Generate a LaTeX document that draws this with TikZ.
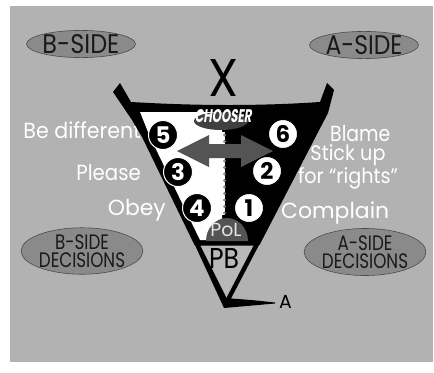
\documentclass[tikz,border=0pt]{standalone}
\usepackage{fontspec}
\setmainfont{Poppins}
\newfontfamily\chfont{Poppins}[FakeSlant=0.22]
\usetikzlibrary{shapes.geometric}
\definecolor{bg}{gray}{0.70}
\definecolor{ell}{gray}{0.54}
\definecolor{arr}{gray}{0.33}
\definecolor{pol}{gray}{0.33}
\definecolor{pbfill}{gray}{0.72}
\newcommand\sqz[2]{\scalebox{#1}[1]{#2}}
\begin{document}
\begin{tikzpicture}[x=1bp,y=-1bp,
  lbl/.style={text=white, inner sep=0pt, font=\fontsize{22}{22}\selectfont},
  oval/.style={ellipse, draw=black!70, line width=0.6bp, fill=ell, inner sep=0pt, text=black!90},
  numb/.style={circle, fill=black, draw=white, line width=1bp, text=white, minimum size=29bp, inner sep=0pt, font=\fontsize{23}{23}\selectfont\bfseries},
  numw/.style={circle, fill=white, draw=black, line width=1bp, text=black, minimum size=29bp, inner sep=0pt, font=\fontsize{23}{23}\selectfont\bfseries},
  plain/.style={inner sep=0pt}
]
\useasboundingbox (0,0) rectangle (434,372);
\fill[white] (0,0) rectangle (434,372);
\fill[bg] (10,6) rectangle (433,362);

% ovals
\node[oval, minimum width=92bp, minimum height=27bp] (bside) at (81,44) {\resizebox{77bp}{19bp}{B-SIDE}};
\node[oval, minimum width=93bp, minimum height=27bp] (aside) at (364,45) {\resizebox{77bp}{19bp}{A-SIDE}};
\node[oval, minimum width=110bp, minimum height=46bp, align=center, font=\fontsize{21}{18}\selectfont] (bdec) at (82,251) {\sqz{0.8}{B-SIDE}\\\sqz{0.8}{DECISIONS}};
\node[oval, minimum width=110bp, minimum height=47bp, align=center, font=\fontsize{21}{18}\selectfont] (adec) at (365,252) {\sqz{0.8}{A-SIDE}\\\sqz{0.8}{DECISIONS}};

% X
\node[plain] (x) at (223,78) {\resizebox{30bp}{37bp}{X}};

% side labels
\node[lbl, anchor=base east] (diff) at (141,138) {\sqz{0.94}{Be different}};
\node[lbl, anchor=base east] (please) at (141,180) {\sqz{0.9}{Please}};
\node[lbl, anchor=base east] (obey) at (166,215) {Obey};
\node[lbl, anchor=base west] (blame) at (330,141) {\sqz{0.86}{Blame}};
\node[lbl, align=center, font=\fontsize{21}{17}\selectfont] (stick) at (348,167) {\sqz{0.92}{Stick up}\\\sqz{0.92}{for “rights”}};
\node[lbl, anchor=base west] (compl) at (281,218) {Complain};

% body
\fill[black] (120,83) -- (131,102) .. controls (200,106) and (260,106) .. (320,102) -- (327,83) -- (334,90) -- (328,113) -- (259.5,245) -- (194.5,245) -- (142,137) -- (132,120) -- (113,92) -- cycle;
\fill[white] (140,112) -- (222,112) -- (222,240) -- (200,240) -- (150,137) -- cycle;

% chooser head
\fill[black!75] (221,121) ellipse [x radius=27, y radius=9];
\node[plain, text=white] (chooser) at (223,116) {\resizebox{57bp}{13bp}{\chfont\bfseries CHOOSER}};

% divider
\fill[white] (220.5,132) rectangle (224.5,215);
\foreach \yy in {135,141.5,...,213} \fill[black!45] (224.5,\yy) circle (1.6);

% double arrow
\fill[arr] (177,151) -- (209,135) -- (209,144) -- (241,144) -- (241,135) -- (273,151) -- (241,167) -- (241,158) -- (209,158) -- (209,167) -- cycle;

% numbers
\node[numb] (n5) at (163,135) {5};
\node[numb] (n3) at (178,172) {3};
\node[numb] (n4) at (197,208) {4};
\node[numw] (n6) at (283,134) {6};
\node[numw] (n2) at (267,171) {2};
\node[numw] (n1) at (249,208) {1};

% PoL
\fill[pol] (206,241) arc[start angle=180, end angle=360, x radius=21, y radius=23] -- cycle;
\node[plain, text=black!10, font=\fontsize{19}{19}\selectfont] (pol) at (226,230) {PoL};

% PB and point A
\fill[black] (194.5,244) -- (259.5,244) -- (231,298.5) .. controls (252,300) .. (275,302.5) -- (275,303.5) -- (224,308) -- cycle;
\fill[pbfill] (200.5,245.5) -- (253.5,245.5) -- (226.5,297.5) -- cycle;
\node[plain] (pb) at (224,258) {\resizebox{30bp}{20bp}{PB}};
\node[plain, anchor=base west, font=\fontsize{19}{19}\selectfont] (a) at (279,308) {A};
\end{tikzpicture}
\end{document}
